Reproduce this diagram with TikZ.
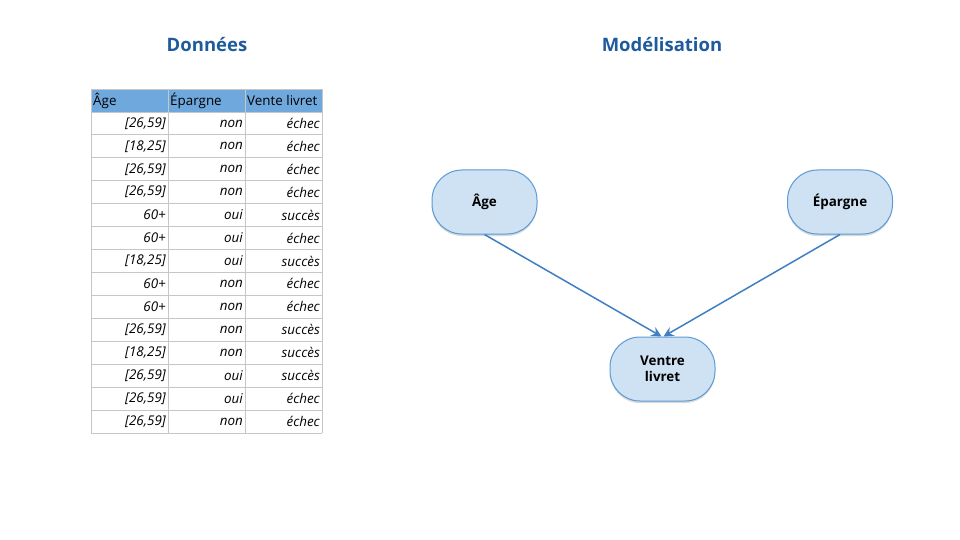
\documentclass[tikz,border=0pt]{standalone}
\usepackage{fontspec}
\setmainfont{Open Sans}
\usetikzlibrary{arrows.meta,shadows}
\definecolor{titleblue}{HTML}{1F5B9C}
\definecolor{headfill}{HTML}{6FA8DC}
\definecolor{gridgray}{HTML}{C6C6C6}
\definecolor{nodefill}{HTML}{CFE2F3}
\definecolor{nodeedge}{HTML}{5B9BD5}
\definecolor{arrowblue}{HTML}{3F7FC2}
\tikzset{
  title/.style={font=\fontsize{18.5}{22}\selectfont\bfseries, text=titleblue},
  headcell/.style={font=\fontsize{13.4}{15}\selectfont, anchor=west, inner sep=2pt},
  datacell/.style={font=\fontsize{13.4}{15}\selectfont\itshape, anchor=east, inner sep=2pt},
  varnode/.style={draw=nodeedge, fill=nodefill, line width=1pt, rounded corners=30pt,
     minimum width=105pt, minimum height=64pt, align=center,
     font=\fontsize{13.4}{15.5}\selectfont\bfseries,
     drop shadow={shadow xshift=0pt, shadow yshift=-2pt, opacity=0.25, fill=black!60}},
  link/.style={draw=arrowblue, line width=1.5pt, -{Stealth[length=10pt,width=10pt,inset=3.5pt]}}
}
\begin{document}
\begin{tikzpicture}[x=1pt,y=-1pt]
\useasboundingbox (0,0) rectangle (960,540);
\fill[white] (0,0) rectangle (960,540);
% titles
\node[title] (tdon) at (207,45) {Données};
\node[title] (tmod) at (662,45) {Modélisation};
% table
\def\xa{91}\def\xb{168}\def\xc{245}\def\xd{322}
\def\rh{22.93}
\fill[headfill] (\xa,89) rectangle (\xd,89+\rh);
\foreach \i in {0,...,15} {
  \draw[gridgray, line width=0.8pt] (\xa,89+\i*\rh) -- (\xd,89+\i*\rh);
}
\foreach \x in {\xa,\xb,\xc,\xd} {
  \draw[gridgray, line width=0.8pt] (\x,89) -- (\x,89+15*\rh);
}
\node[headcell] (h1) at (\xa,89+0.5*\rh) {Âge};
\node[headcell] (h2) at (\xb,89+0.5*\rh) {Épargne};
\node[headcell] (h3) at (\xc,89+0.5*\rh) {Vente livret};
\foreach [count=\i] \a/\b/\c in {
  {[26,59]}/non/échec,
  {[18,25]}/non/échec,
  {[26,59]}/non/échec,
  {[26,59]}/non/échec,
  60+/oui/succès,
  60+/oui/échec,
  {[18,25]}/oui/succès,
  60+/non/échec,
  60+/non/échec,
  {[26,59]}/non/succès,
  {[18,25]}/non/succès,
  {[26,59]}/oui/succès,
  {[26,59]}/oui/échec,
  {[26,59]}/non/échec} {
  \node[datacell] (ra\i) at (\xb,89+\i*\rh+0.5*\rh) {\a};
  \node[datacell] (rb\i) at (\xc,89+\i*\rh+0.5*\rh) {\b};
  \node[datacell] (rc\i) at (\xd,89+\i*\rh+0.5*\rh) {\c};
}
% model
\node[varnode] (age) at (484.5,202) {Âge};
\node[varnode] (epargne) at (840,202) {Épargne};
\node[varnode] (vente) at (662.5,369) {Ventre\\livret};
\draw[link] (age.south) -- ([xshift=-1pt]vente.north);
\draw[link] (epargne.south) -- ([xshift=1pt]vente.north);
\end{tikzpicture}
\end{document}
